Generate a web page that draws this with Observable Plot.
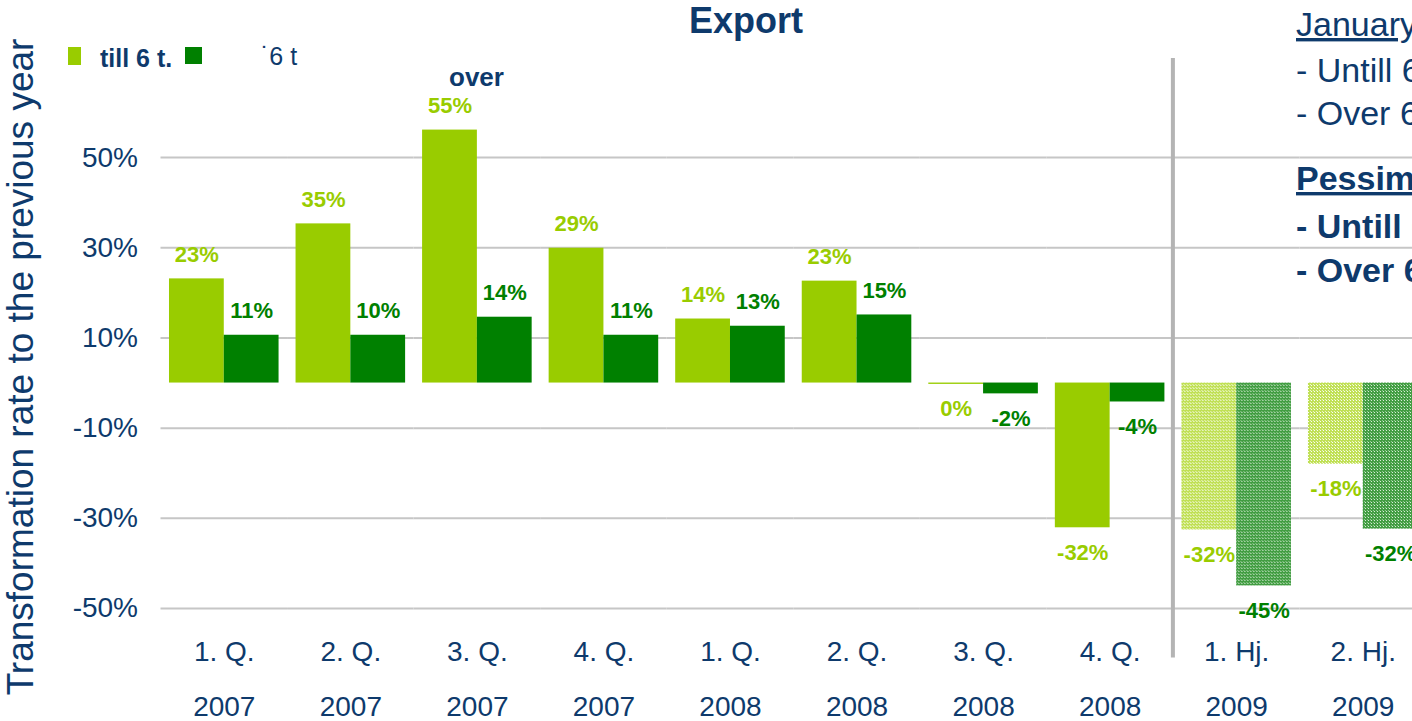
<!DOCTYPE html>
<html>
<head>
<meta charset="utf-8">
<script src="https://cdn.jsdelivr.net/npm/d3@7"></script>
<script src="https://cdn.jsdelivr.net/npm/@observablehq/plot@0.6"></script>
<style>
  html, body { margin: 0; padding: 0; background: #fff; overflow: hidden; }
  #wrap { position: relative; width: 1412px; height: 721px; overflow: hidden; font-family: "Liberation Sans", Arial, sans-serif; }
  #wrap > svg { position: absolute; left: 0; top: 0; max-width: none !important; }
</style>
</head>
<body>
<svg width="0" height="0" style="position:absolute">
  <defs>
    <pattern id="pat-till" width="3" height="3" patternUnits="userSpaceOnUse">
      <rect width="3" height="3" fill="#c0e055"></rect>
      <rect x="1" y="1" width="1" height="1" fill="#ffffff"></rect>
      <rect x="0" y="0" width="1" height="1" fill="#eef7cc"></rect>
    </pattern>
    <pattern id="pat-over" width="3" height="3" patternUnits="userSpaceOnUse">
      <rect width="3" height="3" fill="#429d42"></rect>
      <rect x="1" y="1" width="1" height="1" fill="#e0f1e0"></rect>
      <rect x="0" y="0" width="1" height="1" fill="#95cc95"></rect>
    </pattern>
  </defs>
</svg>
<div id="wrap"></div>
<script>
// ---------- data ----------
const periods = ["1. Q.", "2. Q.", "3. Q.", "4. Q.", "1. Q.", "2. Q.", "3. Q.", "4. Q.", "1. Hj.", "2. Hj."];
const years = ["2007", "2007", "2007", "2007", "2008", "2008", "2008", "2008", "2009", "2009"];
const till6 = [23.1, 35.3, 56.1, 29.9, 14.2, 22.6, -0.3, -32.1, -32.6, -18.0];
const over6 = [10.6, 10.6, 14.6, 10.6, 12.6, 15.1, -2.4, -4.2, -45.0, -32.4];
const till6Labels = ["23%", "35%", "55%", "29%", "14%", "23%", "0%", "-32%", "-32%", "-18%"];
const over6Labels = ["11%", "10%", "14%", "11%", "13%", "15%", "-2%", "-4%", "-45%", "-32%"];
const forecast = [false, false, false, false, false, false, false, false, true, true];
const gridTicks = [-50, -30, -10, 10, 30, 50];
const seriesNames = ["till 6 t.", "over 6 t"];
const separatorBefore = 8; // index of the first forecast period

const navy = "#0e3a6c";
const colors = {till: "#99cc00", over: "#008000"};

const keys = periods.map((p, i) => `${p}|${years[i]}`);
const rows = [];
periods.forEach((p, i) => {
  rows.push({key: keys[i], series: "till", value: till6[i], label: till6Labels[i], forecast: forecast[i]});
  rows.push({key: keys[i], series: "over", value: over6[i], label: over6Labels[i], forecast: forecast[i]});
});

const labelMark = (series, positive) =>
  Plot.text(rows.filter(d => d.series === series && (positive ? d.value >= 0 : d.value < 0)), {
    fx: "key", x: "series", y: "value", text: "label",
    dy: positive ? -24 : 25, lineAnchor: "middle", textAnchor: "middle",
    fill: colors[series], fontSize: 22, fontWeight: "bold"
  });

const plot = Plot.plot({
  width: 1426,
  height: 721,
  marginLeft: 160.5,
  marginRight: 0,
  marginTop: 112,
  marginBottom: 113,
  style: {fontFamily: "'Liberation Sans', Arial, sans-serif", background: "transparent", color: navy, overflow: "visible", maxWidth: "none"},
  fx: {domain: keys, padding: 0, round: false, axis: null, label: null},
  x: {domain: ["till", "over"], paddingInner: 0, paddingOuter: 0.155, round: false, axis: null},
  y: {domain: [-50, 60], axis: null},
  color: {type: "identity"},
  marks: [
    Plot.ruleY(gridTicks, {stroke: "#c6c6c6", strokeWidth: 2}),
    Plot.axisY(gridTicks, {tickSize: 0, tickPadding: 23, fontSize: 28, tickFormat: d => d + "%", color: navy, label: null}),
    Plot.barY(rows, {
      fx: "key", x: "series", y: "value",
      fill: d => d.forecast ? `url(#pat-${d.series})` : colors[d.series]
    }),
    labelMark("till", true), labelMark("till", false),
    labelMark("over", true), labelMark("over", false),
    Plot.text(keys, {fx: d => d, text: (d, i) => periods[i], frameAnchor: "bottom", dy: 52, lineAnchor: "bottom", fontSize: 28, fill: navy}),
    Plot.text(keys, {fx: d => d, text: (d, i) => years[i], frameAnchor: "bottom", dy: 107, lineAnchor: "bottom", fontSize: 28, fill: navy})
  ]
});

const wrap = document.getElementById("wrap");
wrap.appendChild(plot);

// ---------- overlay (title, legend, notes, axis label, separator) ----------
const ov = d3.select(wrap).append("svg")
  .attr("width", 1412).attr("height", 721)
  .style("font-family", "'Liberation Sans', Arial, sans-serif");

// separator between actual and forecast periods, positioned via Plot's scales
const fxs = plot.scale("fx");
const ys = plot.scale("y");
const band = d3.scaleBand().domain(fxs.domain).range(fxs.range).padding(0);
const sepX = band(keys[separatorBefore]);
ov.append("line")
  .attr("x1", sepX).attr("x2", sepX)
  .attr("y1", ys.apply(72)).attr("y2", ys.apply(-61))
  .attr("stroke", "#b4b4b4").attr("stroke-width", 4);

ov.append("text").attr("x", 746).attr("y", 33).attr("text-anchor", "middle")
  .attr("font-size", 36).attr("font-weight", "bold").attr("fill", navy).text("Export");

// y axis label
ov.append("text").attr("transform", "translate(33,367) rotate(-90)")
  .attr("text-anchor", "middle").attr("font-size", 37).attr("fill", navy)
  .text("Transformation rate to the previous year");

// legend
ov.append("rect").attr("x", 68).attr("y", 47).attr("width", 13).attr("height", 18).attr("fill", colors.till);
ov.append("rect").attr("x", 185).attr("y", 47).attr("width", 17).attr("height", 17).attr("fill", colors.over);
ov.append("text").attr("x", 100).attr("y", 67).attr("font-size", 25).attr("font-weight", "bold").attr("fill", navy).text(seriesNames[0]);
ov.append("text").attr("x", 261).attr("y", 65).attr("font-size", 25).attr("fill", navy).text("˙6 t");
ov.append("text").attr("x", 449).attr("y", 86).attr("font-size", 26).attr("font-weight", "bold").attr("fill", navy).text("over");

// notes on the right
const notes = [
  {t: "January - June 2009:", y: 36, bold: false, u: true},
  {t: "- Untill 6 t.: -32%", y: 82, bold: false, u: false},
  {t: "- Over 6 t.: -45%", y: 125, bold: false, u: false},
  {t: "Pessimistic:", y: 190, bold: true, u: true},
  {t: "- Untill 6 t.: -18%", y: 238, bold: true, u: false},
  {t: "- Over 6 t.: -32%", y: 282, bold: true, u: false}
];
notes.forEach(n => {
  ov.append("text").attr("x", 1296).attr("y", n.y).attr("font-size", 34)
    .attr("font-weight", n.bold ? "bold" : "normal")
    .attr("text-decoration", n.u ? "underline" : null)
    .attr("fill", navy).text(n.t);
});
</script>
</body>
</html>
